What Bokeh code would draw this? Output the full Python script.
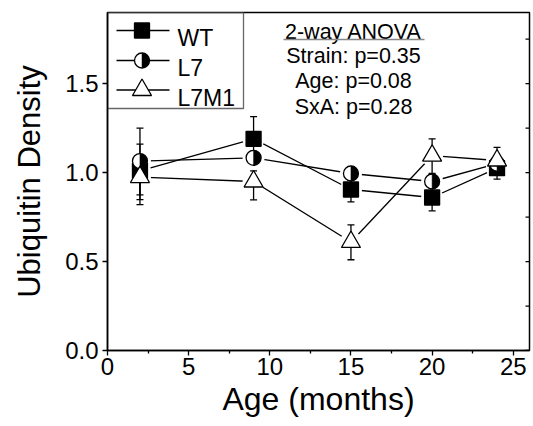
import numpy as np
from bokeh.plotting import figure
from bokeh.models import Range1d, FixedTicker, PrintfTickFormatter
from bokeh.core.properties import value
from bokeh.embed import file_html
from bokeh.resources import INLINE

# ---------------- data ----------------
ages = [2, 9, 15, 20, 24]

wt = [1.01, 1.19, 0.905, 0.86, 1.025]
wt_up = [0.15, 0.125, 0.07, 0.07, 0.05]
wt_dn = [0.19, 0.07, 0.07, 0.075, 0.062]

l7 = [1.065, 1.083, 0.995, 0.95, 1.05]
l7_up = [0.185, 0.035, 0.035, 0.035, 0.035]
l7_dn = [0.19, 0.035, 0.035, 0.035, 0.035]

l7m1 = [0.975, 0.95, 0.61, 1.095, 1.068]
l7m1_up = [0.10, 0.06, 0.096, 0.095, 0.074]
l7m1_dn = [0.127, 0.103, 0.10, 0.10, 0.05]

series_names = ["WT", "L7", "L7M1"]
x_ticks = [0, 5, 10, 15, 20, 25]
x_minor = [2.5, 7.5, 12.5, 17.5, 22.5]
y_ticks = [0.0, 0.5, 1.0, 1.5]
y_right_ticks = [0.0, 0.25, 0.5, 0.75, 1.0, 1.25, 1.5, 1.75]
anova_lines = ["2-way ANOVA", "Strain: p=0.35", "Age: p=0.08", "SxA: p=0.28"]

XMAX, YMAX = 26, 1.9
FONT = "Liberation Sans"

# frame geometry (page pixels)
FL, FT, FW, FH = 107, 12, 422, 338

p = figure(width=FL + FW + 2, height=426, x_range=Range1d(0, XMAX), y_range=Range1d(0, YMAX),
           output_backend="svg", toolbar_location=None,
           min_border_left=FL, min_border_right=2, min_border_top=FT,
           min_border_bottom=426 - FT - FH,
           x_axis_label="Age (months)", y_axis_label="Ubiquitin Density")
p.xgrid.visible = False
p.ygrid.visible = False
p.outline_line_color = "black"
p.outline_line_width = 1.5
p.background_fill_color = "white"

for ax in (p.xaxis[0], p.yaxis[0]):
    ax.axis_line_width = 1.5
    ax.major_tick_line_width = 1.3
    ax.minor_tick_line_width = 1.3
    ax.major_tick_in = 0
    ax.major_tick_out = 5
    ax.major_label_text_font = FONT
    ax.major_label_text_font_size = "24px"
    ax.major_label_text_color = "black"
    ax.axis_label_text_font = FONT
    ax.axis_label_text_font_style = "normal"
    ax.axis_label_text_color = "black"

p.xaxis.ticker = FixedTicker(ticks=x_ticks, minor_ticks=x_minor)
p.xaxis.minor_tick_in = 0
p.xaxis.minor_tick_out = 3
p.xaxis.major_label_standoff = 2
p.xaxis.axis_label_standoff = 3
p.xaxis.axis_label_text_font_size = "32px"

p.yaxis.ticker = FixedTicker(ticks=y_ticks, minor_ticks=[])
p.yaxis.formatter = PrintfTickFormatter(format="%.1f")
p.yaxis.major_label_standoff = 4
p.yaxis.axis_label_standoff = 15
p.yaxis.axis_label_text_font_size = "31px"

def dx(px):
    return (px - FL) / FW * XMAX

def dy(py):
    return (FT + FH - py) / FH * YMAX

LW = 1.3

# inward ticks on the right spine
p.segment(x0=[XMAX - 4 / FW * XMAX] * len(y_right_ticks), y0=y_right_ticks,
          x1=[XMAX] * len(y_right_ticks), y1=y_right_ticks,
          line_color="black", line_width=LW)

series = [
    (wt, wt_up, wt_dn),
    (l7, l7_up, l7_dn),
    (l7m1, l7m1_up, l7m1_dn),
]

# connecting lines
for vals, up, dn in series:
    p.line(ages, vals, line_color="black", line_width=LW)

# white halos to leave gaps around the symbols
for vals, up, dn in series:
    p.scatter(ages, vals, marker="circle", size=22, fill_color="white", line_color=None)

# error bars
for vals, up, dn in series:
    v = np.array(vals)
    hi = v + np.array(up)
    lo = v - np.array(dn)
    p.segment(x0=ages, y0=lo, x1=ages, y1=hi, line_color="black", line_width=LW)
    p.scatter(ages, hi, marker="dash", size=7, line_color="black", line_width=LW)
    p.scatter(ages, lo, marker="dash", size=7, line_color="black", line_width=LW)

def draw_wt(x, y):
    p.scatter(x, y, marker="square", size=15, fill_color="black", line_color="black", line_width=LW)

def draw_l7(x, y):
    p.scatter(x, y, marker="circle", size=15, fill_color="white", line_color="black", line_width=LW)
    p.wedge(x, y, radius=7.3, radius_units="screen", start_angle=-np.pi / 2, end_angle=np.pi / 2,
            fill_color="black", line_color="black", line_width=0.5)

def draw_l7m1(x, y):
    p.scatter(x, y, marker="triangle", size=19, fill_color="white", line_color="black", line_width=LW)

drawers = [draw_wt, draw_l7, draw_l7m1]
for (vals, up, dn), d in zip(series, drawers):
    d(ages, vals)

# ---------------- legend ----------------
p.quad(left=[dx(107)], right=[dx(243)], top=[dy(12)], bottom=[dy(108)],
       fill_color=None, line_color="#666666", line_width=1.3)
row_y = [30, 60, 89.5]
row_base = [37, 67, 97]
for i, name in enumerate(series_names):
    yy = dy(row_y[i])
    p.line([dx(116), dx(169)], [yy, yy], line_color="black", line_width=LW)
    drawers[i]([dx(141.5)], [yy])
p.text(x=[dx(177)] * 3, y=[dy(b) for b in row_base], text=series_names,
       text_font=value(FONT), text_font_size="23px", text_color="black",
       text_align="left", text_baseline="alphabetic")

# ANOVA annotation
anova_base = [31, 55.5, 80.5, 106]
p.text(x=[dx(353)] * 4, y=[dy(b) for b in anova_base], text=anova_lines,
       text_font=value(FONT), text_font_size="21.5px", text_color="black",
       text_align="center", text_baseline="alphabetic")
p.line([dx(283), dx(424)], [dy(39), dy(39)], line_color="#888888", line_width=1.3)

open("out.html", "w").write(file_html(p, INLINE))
